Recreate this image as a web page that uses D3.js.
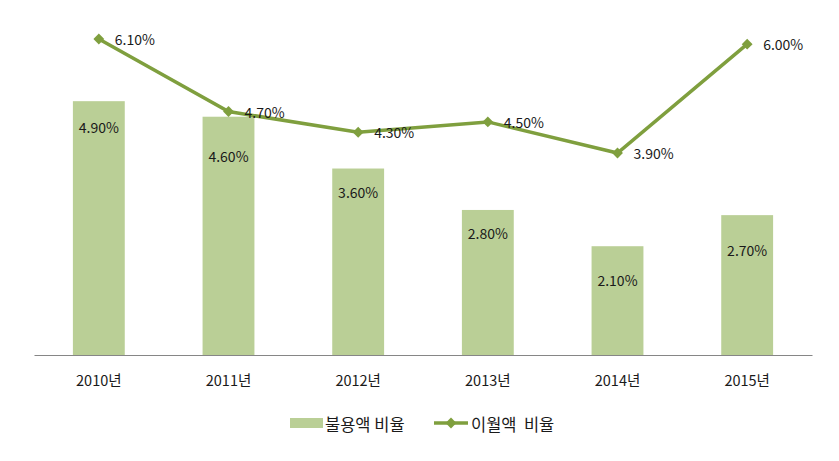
<!DOCTYPE html>
<html><head><meta charset="utf-8">
<script src="https://cdn.jsdelivr.net/npm/d3@7"></script>
<style>body{margin:0;background:#fff}svg{display:block}text{font-family:"Noto Sans CJK KR","Noto Sans",sans-serif;fill:#1a1a1a}</style>
</head><body><svg id="c" width="839" height="461"></svg>
<script>
const categories = ["2010년","2011년","2012년","2013년","2014년","2015년"];
const barValues = [4.9, 4.6, 3.6, 2.8, 2.1, 2.7];
const lineValues = [6.1, 4.7, 4.3, 4.5, 3.9, 6.0];
const barLabels = ["4.90%","4.60%","3.60%","2.80%","2.10%","2.70%"];
const lineLabels = ["6.10%","4.70%","4.30%","4.50%","3.90%","6.00%"];
const seriesNames = ["불용액 비율","이월액  비율"];

const barLabelDy = [26, 39, 23, 23, 34, 35];

const svg = d3.select("#c");
const x = d3.scaleBand().domain(categories).range([34, 812]).paddingInner(0.6).paddingOuter(0.3);
const y = d3.scaleLinear().domain([0, 7]).range([355, 355 - 7 * 51.8]);
const barColor = "#bacf96", lineColor = "#7f9f3e";

svg.selectAll("rect.bar").data(barValues).join("rect").attr("class","bar")
  .attr("x",(d,i)=>x(categories[i])).attr("width",x.bandwidth())
  .attr("y",d=>y(d)).attr("height",d=>y(0)-y(d)).attr("fill",barColor);

const xa = svg.append("g").attr("transform",`translate(0,${y(0)})`)
  .call(d3.axisBottom(x).tickSize(0).tickPadding(21));
xa.select(".domain").attr("stroke","#868686").attr("stroke-width",1.2);
xa.selectAll("text").attr("font-size",14.5).attr("font-family",'"Noto Sans CJK KR",sans-serif').attr("fill","#1a1a1a");

svg.selectAll("text.bl").data(barValues).join("text").attr("class","bl")
  .attr("x",(d,i)=>x(categories[i])+x.bandwidth()/2).attr("y",(d,i)=>y(d)+barLabelDy[i])
  .attr("text-anchor","middle").attr("dominant-baseline","central").attr("font-size",14).text((d,i)=>barLabels[i]);

const cx = (d,i)=>x(categories[i])+x.bandwidth()/2;
svg.append("path").datum(lineValues)
  .attr("d",d3.line().x(cx).y(d=>y(d))).attr("fill","none").attr("stroke",lineColor).attr("stroke-width",3.5);
const diamond = d3.symbol().type(d3.symbolDiamond2).size(75);
svg.selectAll("path.mk").data(lineValues).join("path").attr("class","mk")
  .attr("d",diamond).attr("transform",(d,i)=>`translate(${cx(d,i)},${y(d)})`).attr("fill",lineColor);
svg.selectAll("text.ll").data(lineValues).join("text").attr("class","ll")
  .attr("x",(d,i)=>cx(d,i)+16).attr("y",d=>y(d))
  .attr("dominant-baseline","central").attr("font-size",14).text((d,i)=>lineLabels[i]);

// legend
const lg = svg.append("g");
lg.append("rect").attr("x",290).attr("y",418).attr("width",33).attr("height",10).attr("fill",barColor);
lg.append("text").attr("x",325).attr("y",424).attr("dominant-baseline","central").attr("font-size",16.5).text(seriesNames[0]);
lg.append("line").attr("x1",434).attr("x2",468).attr("y1",423).attr("y2",423).attr("stroke",lineColor).attr("stroke-width",3.5);
lg.append("path").attr("d",diamond).attr("transform","translate(451,423)").attr("fill",lineColor);
lg.append("text").attr("x",471).attr("y",424).attr("dominant-baseline","central").attr("font-size",16.5).style("white-space","pre").text(seriesNames[1]);
</script></body></html>
